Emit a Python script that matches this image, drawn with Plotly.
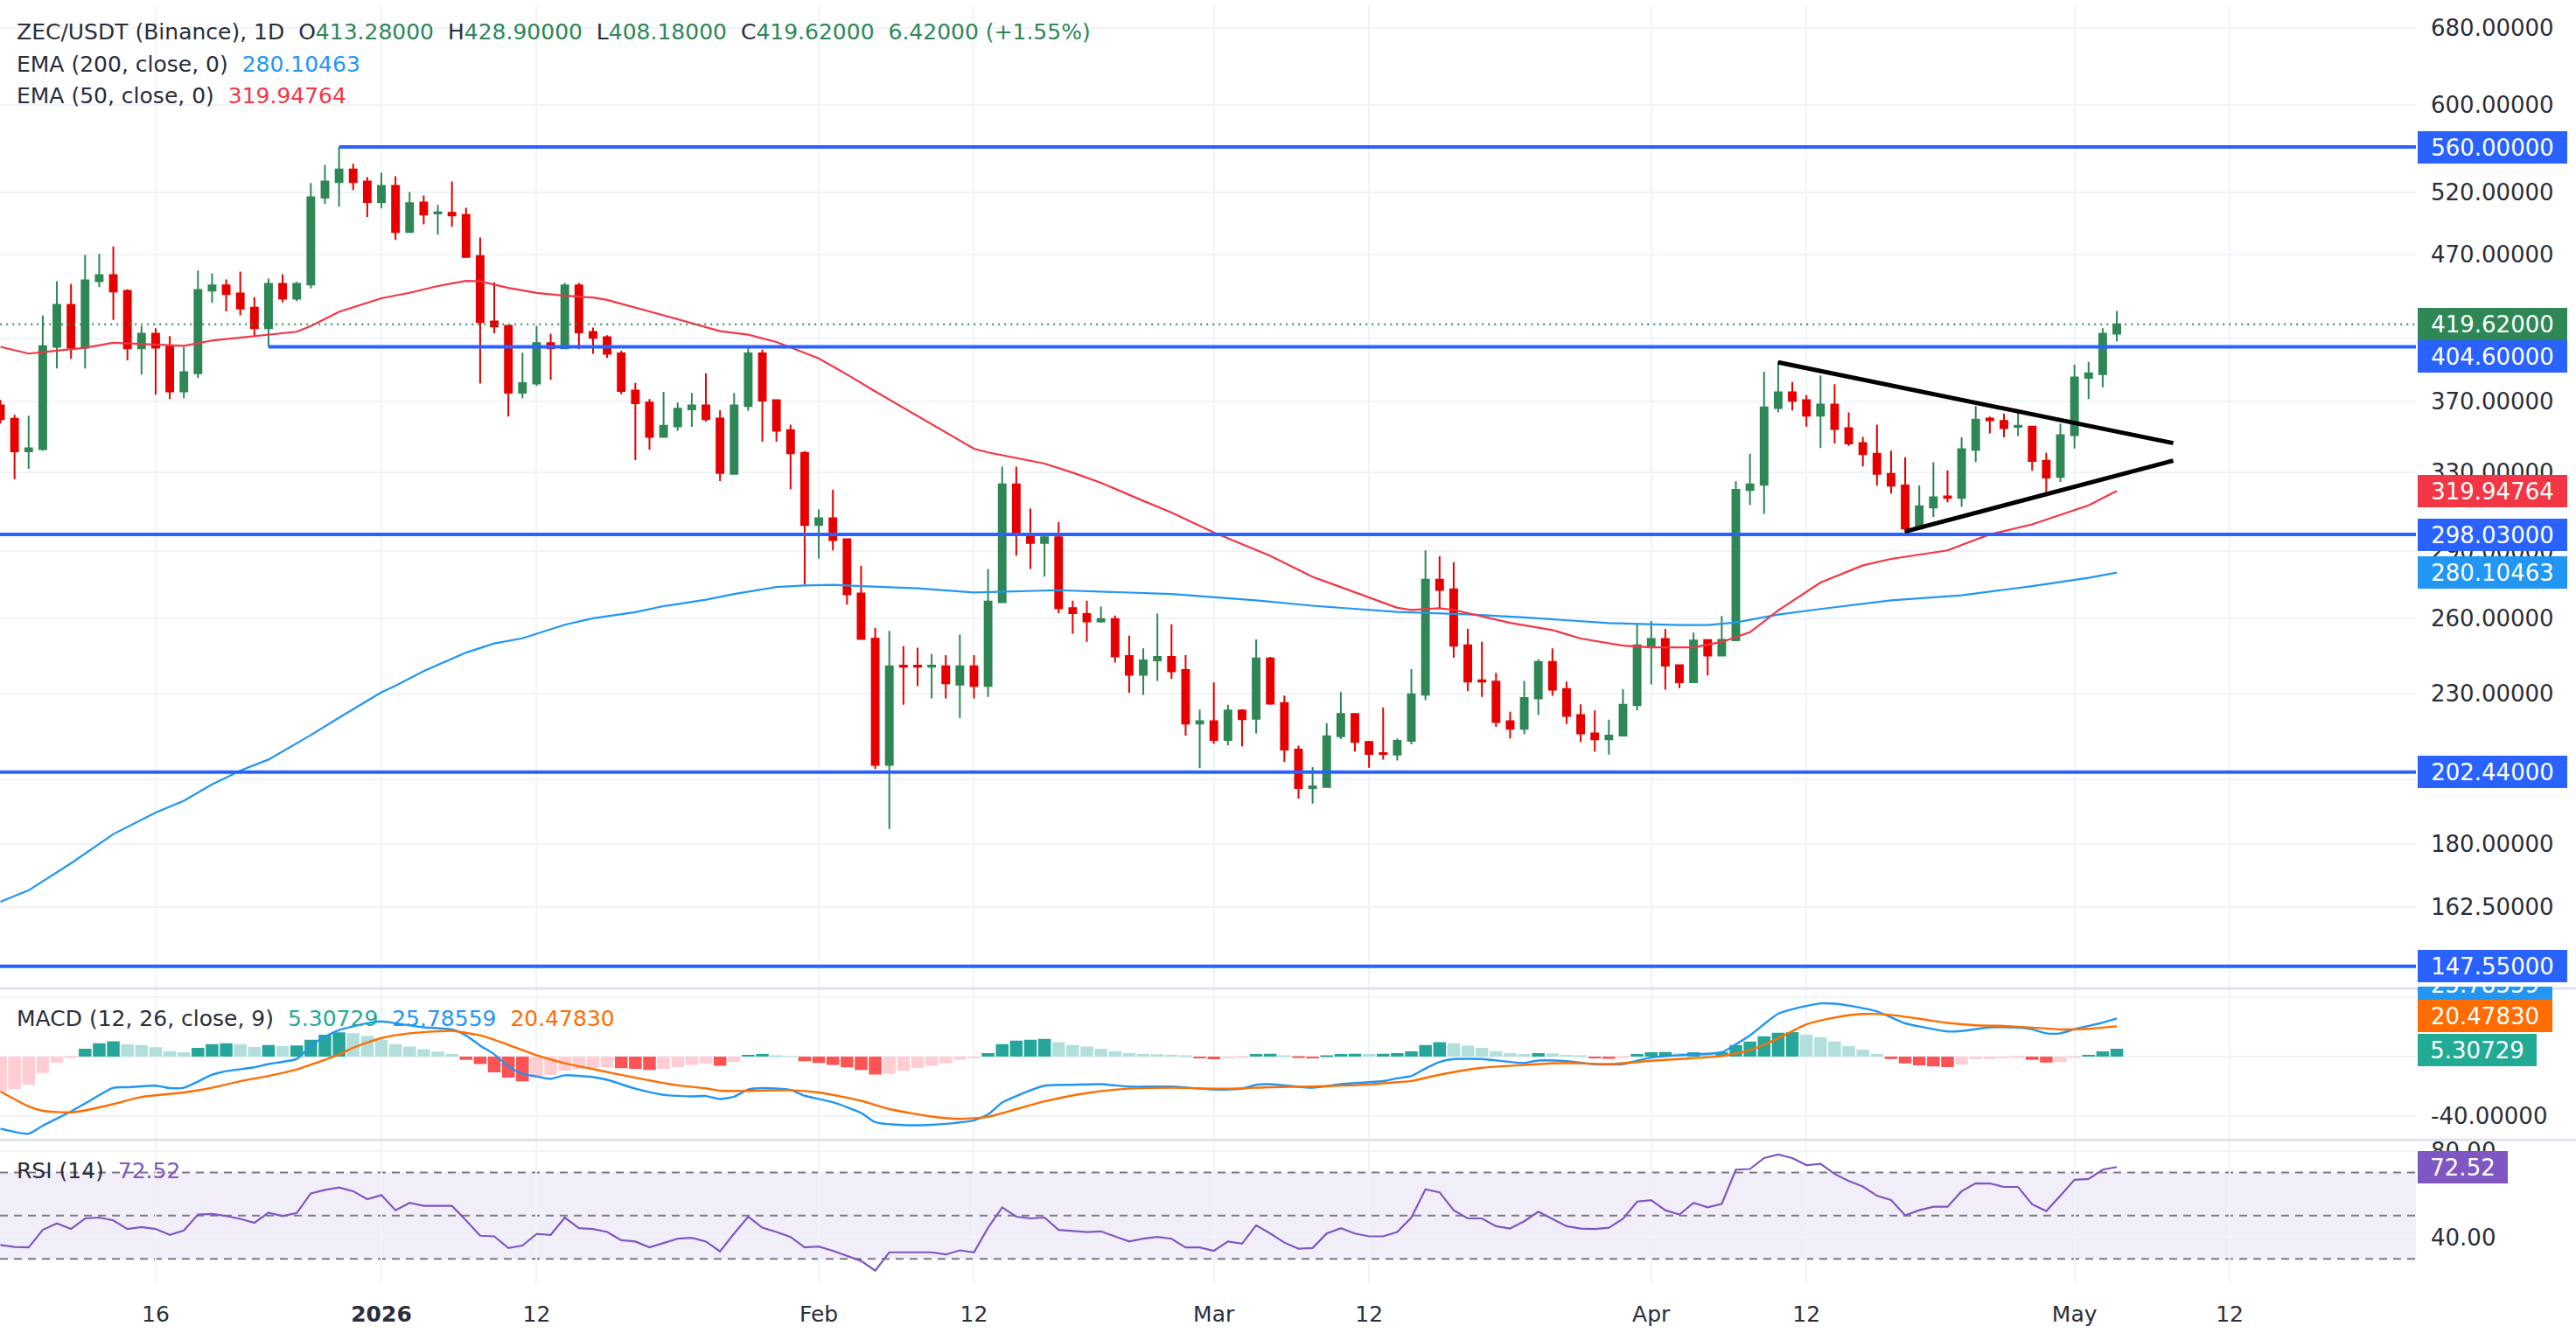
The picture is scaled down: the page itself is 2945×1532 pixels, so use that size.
import math
import pandas as pd
import plotly.graph_objects as go
from plotly.subplots import make_subplots

# ---------------- data ----------------
START = "2025-12-05"

opens = [367.7, 359.8, 341.2, 342.4, 404.5, 433.1, 403.9, 450.1, 454.6, 443.1,
         403.5, 413.3, 404.5, 376.2, 387.5, 443.3, 447.1, 441.2, 431.2, 417.0,
         448.2, 437.5, 447.7, 515.6, 528.9, 540.0, 529.4, 512.0, 525.7, 487.7,
         511.7, 502.7, 503.1, 501.4, 469.0, 421.6, 418.6, 375.4, 381.1, 407.0,
         403.5, 447.1, 414.4, 410.9, 400.2, 376.7, 369.4, 349.4, 355.4, 365.4,
         367.7, 360.0, 329.0, 367.3, 400.2, 370.9, 353.2, 340.4, 302.7, 306.0,
         295.7, 270.7, 251.5, 204.8, 240.7, 240.7, 240.3, 240.5, 233.4, 240.5,
         232.9, 266.9, 323.4, 297.7, 293.9, 296.7, 264.4, 261.8, 258.7, 259.7,
         244.5, 237.2, 242.8, 244.2, 239.0, 219.1, 219.9, 213.3, 223.8, 220.8,
         243.6, 226.5, 210.0, 197.2, 197.6, 214.6, 222.5, 212.6, 208.8, 208.3,
         213.0, 229.6, 276.9, 272.6, 248.8, 235.1, 234.6, 219.9, 217.2, 228.2,
         242.2, 231.7, 222.1, 215.6, 213.5, 214.8, 225.7, 248.2, 251.4, 240.9,
         234.3, 251.0, 244.7, 250.9, 320.4, 323.1, 366.1, 375.6, 370.9, 361.6,
         368.2, 354.3, 345.9, 339.9, 328.9, 322.8, 300.9, 311.4, 317.1, 316.3,
         342.1, 360.0, 358.6, 355.1, 355.3, 336.0, 327.3, 350.3, 384.6, 386.9,
         413.28]
highs = [371.0, 362.1, 361.6, 425.6, 450.1, 448.1, 469.7, 470.6, 476.3, 444.2,
         418.6, 417.0, 411.7, 404.5, 458.0, 456.0, 451.4, 457.3, 438.5, 452.0,
         455.3, 449.7, 528.2, 543.9, 560.0, 545.0, 533.2, 537.0, 534.0, 520.5,
         517.5, 509.7, 529.4, 507.3, 483.3, 449.4, 418.6, 400.6, 418.6, 413.3,
         448.8, 448.8, 417.4, 412.3, 401.9, 381.5, 371.6, 375.9, 369.4, 375.3,
         387.5, 364.9, 375.3, 405.1, 402.6, 371.3, 356.4, 341.4, 310.4, 320.5,
         295.7, 283.3, 256.0, 254.8, 248.5, 247.9, 245.3, 244.9, 253.2, 244.9,
         281.8, 332.8, 332.8, 310.8, 297.4, 304.1, 267.6, 267.6, 265.0, 261.2,
         252.8, 247.6, 262.0, 257.5, 244.9, 224.1, 234.2, 225.9, 224.3, 251.2,
         244.2, 229.3, 211.3, 204.1, 219.2, 230.6, 222.5, 213.0, 224.8, 213.8,
         239.4, 290.4, 287.6, 284.9, 255.6, 250.3, 237.9, 223.3, 234.8, 243.2,
         247.6, 234.6, 226.0, 223.8, 220.5, 231.7, 257.9, 258.9, 255.6, 240.9,
         254.0, 251.0, 261.0, 325.0, 339.9, 388.5, 395.0, 382.0, 373.9, 386.1,
         380.6, 363.5, 349.4, 356.4, 341.6, 338.0, 322.8, 335.2, 330.8, 349.1,
         367.3, 361.1, 362.8, 364.2, 355.3, 340.4, 356.9, 392.9, 394.7, 416.9,
         428.90]
lows = [357.0, 326.2, 331.7, 341.6, 390.5, 396.7, 390.5, 445.8, 422.6, 395.7,
        386.6, 374.2, 371.6, 372.1, 384.4, 434.6, 428.6, 425.8, 411.1, 404.7,
        434.8, 435.8, 444.8, 510.5, 508.3, 522.2, 499.7, 506.8, 481.4, 487.7,
        493.8, 485.6, 491.8, 467.4, 381.1, 413.5, 361.1, 372.1, 379.6, 383.3,
        403.5, 403.0, 400.0, 397.2, 374.4, 336.4, 342.1, 349.4, 352.8, 355.1,
        358.2, 325.1, 328.5, 364.5, 346.6, 346.6, 320.9, 274.7, 286.6, 290.4,
        265.9, 251.4, 203.4, 184.5, 225.9, 232.9, 228.2, 228.2, 221.0, 228.2,
        228.8, 266.9, 287.9, 281.8, 278.3, 262.2, 253.6, 250.3, 258.1, 241.9,
        230.3, 229.5, 234.8, 235.6, 214.8, 203.7, 212.0, 211.5, 211.1, 215.6,
        225.9, 205.8, 193.9, 192.3, 197.6, 213.6, 209.3, 203.9, 206.6, 206.3,
        211.8, 227.6, 264.1, 243.8, 231.0, 228.8, 217.9, 213.8, 215.3, 222.1,
        229.2, 218.9, 212.6, 209.3, 208.3, 214.8, 223.8, 233.5, 231.5, 232.1,
        234.0, 236.9, 244.7, 250.9, 312.6, 308.2, 363.5, 364.7, 355.3, 343.1,
        345.6, 344.3, 333.0, 322.7, 318.6, 299.0, 300.9, 306.7, 314.1, 311.8,
        335.3, 351.4, 349.2, 349.7, 330.6, 317.8, 324.6, 342.8, 371.5, 378.8,
        408.18]
closes = [359.5, 341.2, 342.9, 404.9, 433.1, 403.9, 450.8, 454.6, 442.7, 403.5,
          413.3, 403.9, 376.2, 388.1, 443.7, 447.1, 440.8, 430.6, 417.0, 448.2,
          437.5, 448.2, 516.1, 529.4, 540.0, 528.9, 512.0, 525.7, 487.7, 511.2,
          501.7, 503.6, 501.0, 468.3, 421.2, 418.2, 375.4, 381.3, 407.0, 403.5,
          447.1, 414.1, 410.5, 400.0, 376.4, 369.0, 349.4, 355.8, 365.7, 367.7,
          359.5, 329.4, 367.7, 400.2, 370.6, 352.9, 340.1, 302.7, 306.0, 295.3,
          270.4, 251.4, 204.8, 240.5, 240.3, 240.3, 240.7, 233.9, 240.5, 232.9,
          267.2, 323.4, 297.7, 293.9, 296.7, 264.3, 262.2, 258.7, 259.7, 244.4,
          237.2, 242.8, 244.2, 238.5, 219.1, 219.9, 213.3, 223.8, 220.6, 243.6,
          226.3, 210.0, 197.2, 197.8, 214.6, 222.5, 212.6, 208.5, 208.5, 213.0,
          229.8, 276.9, 272.3, 248.7, 234.6, 234.6, 219.6, 217.2, 228.4, 242.2,
          231.5, 221.8, 215.6, 213.5, 214.8, 225.9, 248.8, 251.4, 240.7, 234.3,
          250.8, 244.7, 251.1, 320.5, 323.4, 366.5, 375.6, 370.5, 361.6, 368.2,
          353.9, 345.6, 339.6, 328.9, 322.7, 300.9, 312.1, 316.6, 316.3, 342.4,
          359.3, 358.9, 354.4, 355.8, 335.9, 327.0, 350.3, 384.8, 387.5, 413.2,
          419.62]

ema200_day = [0, 2, 5, 8, 11, 13, 15, 17, 19, 22, 24, 27, 28, 30, 33, 35, 37, 40, 42, 45,
              47, 50, 52, 53, 55, 57, 59, 61, 65, 69, 75, 83, 89, 93, 99, 104, 108, 114, 119, 121,
              123, 126, 129, 134, 139, 144, 148, 150]
ema200_val = [163.9, 167.0, 174.5, 183.0, 189.5, 193.2, 198.4, 202.9, 206.6, 215.0,
              221.2, 230.5, 233.0, 238.6, 245.9, 249.6, 251.7, 257.3, 260.0, 262.6,
              265.2, 268.0, 270.5, 271.6, 273.6, 274.3, 274.6, 274.0, 273.0, 271.2,
              272.2, 270.5, 267.7, 265.4, 262.7, 261.7, 260.4, 258.0, 257.2, 257.2,
              258.3, 261.6, 264.0, 267.7, 269.9, 274.0, 277.7, 280.10463]

ema50_day = [0, 2, 4, 6, 8, 10, 13, 15, 17, 19, 21, 22, 24, 27, 29, 31, 33, 34, 36, 38,
             40, 42, 43, 47, 49, 51, 53, 55, 58, 60, 62, 68, 69, 70, 74, 76, 78, 81, 83, 86,
             88, 90, 93, 96, 99, 100, 102, 103, 107, 110, 112, 115, 117, 120, 122, 124, 126, 129, 132, 134,
             138, 141, 144, 148, 150]
ema50_val = [404.5, 400.1, 402.0, 403.9, 407.2, 406.4, 405.2, 408.7, 410.7, 412.6,
             414.6, 418.5, 428.3, 437.8, 441.7, 446.6, 450.3, 450.0, 445.3, 441.6,
             439.6, 438.3, 436.6, 425.8, 420.5, 415.0, 412.6, 407.7, 397.0, 386.7,
             376.2, 347.5, 342.7, 340.6, 334.5, 329.6, 324.2, 314.8, 308.9, 299.0,
             293.2, 287.8, 278.2, 271.3, 264.5, 263.6, 264.3, 263.6, 258.1, 255.1,
             251.6, 248.7, 248.0, 248.0, 250.2, 254.2, 263.4, 275.6, 283.4, 286.4,
             290.4, 298.1, 303.0, 312.5, 319.94764]

macd_hist = [-24.0, -22.0, -19.0, -11.0, -4.0, -0.6, 5.4, 9.0, 10.4, 8.4,
             7.8, 6.4, 3.8, 3.0, 6.0, 8.4, 9.0, 8.4, 6.6, 7.8,
             7.2, 7.6, 11.4, 14.8, 16.4, 15.8, 14.0, 11.4, 8.4, 6.8,
             5.0, 3.4, 1.8, -2.2, -5.0, -10.6, -14.2, -16.6, -14.6, -12.2,
             -9.6, -8.2, -7.6, -7.0, -7.8, -8.2, -9.0, -8.2, -7.0, -5.6,
             -4.6, -6.2, -3.6, 1.2, 1.8, 1.0, 0.4, -3.0, -4.2, -5.6,
             -7.2, -9.0, -12.0, -11.6, -9.6, -7.6, -6.2, -4.6, -2.2, -1.2,
             2.4, 8.4, 10.8, 11.4, 12.0, 9.8, 7.8, 6.8, 5.4, 3.8,
             2.4, 1.8, 1.6, 1.2, 0.6, -1.2, -1.8, -1.2, -0.6, 1.8,
             2.0, 1.0, -0.6, -1.2, 0.6, 1.8, 2.0, 1.8, 2.0, 2.4,
             3.6, 7.8, 9.8, 9.0, 7.4, 6.0, 3.8, 2.4, 1.8, 2.4,
             2.2, 1.2, 0.6, -1.2, -1.4, -0.6, 1.8, 3.0, 3.2, 2.2,
             3.0, 2.6, 3.0, 7.8, 10.2, 13.8, 16.2, 16.6, 15.0, 13.2,
             10.2, 7.2, 4.8, 1.8, -1.6, -4.6, -5.8, -6.6, -7.0, -5.2,
             -1.8, -1.6, -1.2, -1.0, -2.2, -4.0, -3.6, -0.6, 1.2, 3.6,
             5.30729]

macd_day = [0, 2, 3, 5, 6, 8, 9, 11, 12, 13, 15, 16, 18, 19, 20, 21, 22, 23, 24, 25,
            26, 27, 28, 30, 32, 33, 34, 35, 36, 37, 38, 39, 40, 42, 43, 45, 47, 49, 50, 51,
            52, 53, 54, 56, 57, 59, 61, 62, 64, 66, 67, 69, 70, 71, 72, 74, 76, 78, 80, 83,
            86, 88, 89, 90, 93, 95, 98, 99, 100, 101, 102, 103, 105, 107, 108, 109, 111, 113, 115, 117,
            119, 122, 123, 124, 125, 126, 127, 129, 130, 131, 133, 135, 136, 138, 139, 141, 143, 144, 145, 146,
            147, 149, 150]
macd_val = [-48.6, -52.0, -46.6, -37.0, -31.6, -21.0, -20.6, -19.6, -21.2, -21.0,
            -12.2, -9.8, -7.2, -5.0, -3.5, -1.5, 7.4, 13.5, 18.0, 20.5,
            22.6, 23.8, 22.6, 19.8, 18.4, 14.3, 7.5, 1.6, -6.5, -11.5,
            -13.3, -15.0, -12.6, -13.8, -15.6, -21.6, -25.8, -26.8, -26.6, -28.6,
            -27.0, -22.2, -21.2, -22.5, -26.4, -30.8, -38.0, -44.2, -46.2, -46.0,
            -45.4, -43.0, -39.0, -31.0, -26.6, -19.6, -19.0, -18.6, -20.2, -20.2,
            -22.2, -21.6, -19.0, -18.6, -21.0, -18.6, -16.5, -14.6, -13.0, -8.0,
            -3.6, -1.6, -1.6, -3.6, -4.2, -2.6, -3.0, -5.2, -5.0, -0.6,
            1.0, 3.0, 8.4, 14.4, 22.0, 29.0, 32.0, 36.0, 35.8, 34.5,
            30.5, 22.5, 20.4, 17.0, 17.3, 19.8, 19.6, 18.4, 15.8, 15.8,
            18.5, 23.0, 25.78559]

signal_day = [0, 2, 3, 5, 6, 8, 10, 13, 15, 17, 19, 21, 22, 24, 25, 27, 29, 31, 32, 34,
              36, 38, 40, 42, 45, 48, 50, 51, 53, 56, 58, 61, 63, 66, 68, 70, 72, 74, 77, 80,
              83, 87, 90, 93, 97, 99, 100, 102, 105, 108, 111, 114, 117, 119, 122, 124, 126, 128, 130, 132,
              134, 136, 138, 140, 142, 144, 146, 148, 150]
signal_val = [-23.6, -33.6, -36.6, -37.6, -36.3, -32.0, -27.2, -24.2, -21.0, -16.6,
              -13.0, -8.6, -5.4, 1.5, 6.0, 12.6, 15.8, 17.1, 17.4, 14.4,
              8.0, 1.0, -4.5, -8.4, -14.2, -19.4, -21.4, -23.0, -23.1, -22.6,
              -24.2, -29.8, -35.4, -40.4, -42.0, -40.6, -35.4, -30.2, -24.6, -21.6,
              -21.0, -21.6, -20.6, -20.2, -18.8, -17.2, -16.4, -12.2, -7.5, -5.6,
              -4.2, -5.0, -2.8, -1.6, 0.4, 4.4, 12.4, 21.8, 26.4, 28.8,
              28.2, 25.6, 22.8, 21.2, 20.8, 19.6, 18.4, 18.8, 20.4783]

rsi = [36.4, 35.5, 35.3, 43.4, 46.4, 43.8, 48.7, 49.1, 47.8, 43.8,
       44.7, 43.8, 41.1, 43.1, 50.5, 50.8, 49.8, 48.5, 46.7, 51.4,
       49.8, 51.2, 60.3, 61.9, 63.0, 61.3, 57.6, 59.5, 52.5, 55.9,
       54.5, 54.5, 54.5, 47.8, 40.7, 40.4, 35.0, 36.1, 41.5, 41.1,
       49.1, 44.2, 43.8, 42.4, 38.6, 38.0, 35.3, 37.3, 39.3, 39.7,
       38.0, 33.4, 41.7, 49.5, 44.4, 42.4, 40.1, 35.3, 35.7, 33.7,
       31.2, 29.0, 24.5, 33.0, 33.0, 33.0, 33.0, 32.0, 33.9, 33.0,
       44.4, 53.8, 49.5, 48.7, 49.1, 43.4, 42.8, 42.4, 42.7, 40.4,
       38.0, 39.3, 40.1, 39.3, 35.3, 35.3, 33.7, 38.0, 37.0, 45.5,
       41.7, 37.5, 34.7, 35.0, 41.7, 44.2, 41.7, 40.4, 40.4, 42.4,
       49.1, 62.2, 60.8, 52.5, 48.7, 48.7, 45.1, 44.0, 47.4, 51.8,
       48.5, 45.1, 44.0, 43.8, 44.4, 48.5, 56.5, 57.2, 52.5, 50.5,
       55.9, 53.8, 55.5, 71.3, 71.6, 76.7, 78.3, 76.7, 73.4, 74.0,
       69.3, 66.0, 63.5, 59.2, 57.2, 50.1, 52.5, 54.1, 54.1, 61.3,
       65.0, 64.9, 63.3, 63.3, 55.2, 52.1, 59.2, 66.6, 67.0, 71.3,
       72.52]

# horizontal levels: price, start date (None = full width)
level_prices = [560.0, 404.6, 298.03, 202.44, 147.55]
level_starts = ["2025-12-29", "2025-12-24", None, None, None]
last_close = 419.62

# triangle trend lines (date, price)
tri_upper_dates = ["2026-04-10", "2026-05-08"]
tri_upper_prices = [394.4, 345.8]
tri_lower_dates = ["2026-04-19", "2026-05-08"]
tri_lower_prices = [299.5, 336.1]

price_ticks = [680, 600, 520, 470, 410, 370, 330, 290, 260, 230, 200, 180, 162.5]
x_tick_dates = ["2025-12-05", "2025-12-16", "2026-01-01", "2026-01-12", "2026-02-01", "2026-02-12",
                "2026-03-01", "2026-03-12", "2026-04-01", "2026-04-12", "2026-05-01", "2026-05-12"]
x_tick_text = ["5", "16", "<b>2026</b>", "12", "Feb", "12", "Mar", "12", "Apr", "12", "May", "12"]

# ---------------- styling ----------------
W, H = 2945, 1532
GREEN = "#2e8755"
RED = "#e60000"
LVL = "#2962ff"
EMA200C = "#2196f3"
EMA50C = "#f23645"
MACDC = "#2196f3"
SIGC = "#ff6d00"
RSIC = "#7e57c2"
GRID = "#f0f3fa"
TXT = "#2a2e39"
FONT = "DejaVu Sans"

base = pd.Timestamp(START)
dates = pd.date_range(START, periods=len(opens), freq="D")


def day(i):
    return base + pd.Timedelta(days=i)


fig = make_subplots(rows=3, cols=1, shared_xaxes=True, vertical_spacing=0.0)

fig.add_trace(go.Candlestick(
    x=dates, open=opens, high=highs, low=lows, close=closes,
    increasing=dict(line=dict(color=GREEN, width=2), fillcolor=GREEN),
    decreasing=dict(line=dict(color=RED, width=2), fillcolor=RED),
    whiskerwidth=0, hoverinfo="skip", showlegend=False), row=1, col=1)

fig.add_trace(go.Scatter(x=[day(d) for d in ema200_day], y=ema200_val, mode="lines",
                         line=dict(color=EMA200C, width=2.2), hoverinfo="skip", showlegend=False), row=1, col=1)
fig.add_trace(go.Scatter(x=[day(d) for d in ema50_day], y=ema50_val, mode="lines",
                         line=dict(color=EMA50C, width=2.2), hoverinfo="skip", showlegend=False), row=1, col=1)

# last price dotted line
fig.add_trace(go.Scatter(x=[day(-10), day(200)], y=[last_close, last_close], mode="lines",
                         line=dict(color=GREEN, width=2, dash="2px,5px"), hoverinfo="skip",
                         showlegend=False), row=1, col=1)

for p, s in zip(level_prices, level_starts):
    x0 = pd.Timestamp(s) if s else day(-10)
    fig.add_trace(go.Scatter(x=[x0, day(200)], y=[p, p], mode="lines",
                             line=dict(color=LVL, width=4), hoverinfo="skip", showlegend=False), row=1, col=1)

fig.add_trace(go.Scatter(x=tri_upper_dates, y=tri_upper_prices, mode="lines",
                         line=dict(color="#000000", width=5), hoverinfo="skip", showlegend=False), row=1, col=1)
fig.add_trace(go.Scatter(x=tri_lower_dates, y=tri_lower_prices, mode="lines",
                         line=dict(color="#000000", width=5), hoverinfo="skip", showlegend=False), row=1, col=1)

# MACD
hist_colors = []
for k, v in enumerate(macd_hist):
    prev = macd_hist[k - 1] if k else v
    if v >= 0:
        hist_colors.append("#26a69a" if v > prev else "#b2dfdb")
    else:
        hist_colors.append("#ff5252" if v < prev else "#ffcdd2")
fig.add_trace(go.Bar(x=dates, y=macd_hist, marker=dict(color=hist_colors, line=dict(width=0)),
                     hoverinfo="skip", showlegend=False), row=2, col=1)
fig.add_trace(go.Scatter(x=[day(d) for d in macd_day], y=macd_val, mode="lines",
                         line=dict(color=MACDC, width=2.4, shape="spline", smoothing=0.6),
                         hoverinfo="skip", showlegend=False), row=2, col=1)
fig.add_trace(go.Scatter(x=[day(d) for d in signal_day], y=signal_val, mode="lines",
                         line=dict(color=SIGC, width=2.4, shape="spline", smoothing=0.6),
                         hoverinfo="skip", showlegend=False), row=2, col=1)

# RSI
fig.add_trace(go.Scatter(x=dates, y=rsi, mode="lines", line=dict(color=RSIC, width=2.2),
                         hoverinfo="skip", showlegend=False), row=3, col=1)

# ---------------- layout ----------------
PLOT_H = 1470.0


def py(px):
    return (PLOT_H - px) / PLOT_H


x_range = [base - pd.Timedelta(hours=0.75), base + pd.Timedelta(days=171.2)]

common_x = dict(range=x_range, tickvals=x_tick_dates, ticktext=x_tick_text, showgrid=True,
                gridcolor=GRID, gridwidth=2, zeroline=False, showline=False, ticks="",
                type="date")
fig.update_layout(
    xaxis=dict(**common_x, showticklabels=False, rangeslider=dict(visible=False)),
    xaxis2=dict(**common_x, showticklabels=False),
    xaxis3=dict(**common_x, showticklabels=True, tickfont=dict(family=FONT, size=25, color=TXT),
                ticklabelstandoff=17),
)

ylog_lo = math.log10(142.47)
ylog_hi = math.log10(705.4)
fig.update_layout(
    yaxis=dict(type="log", range=[ylog_lo, ylog_hi], domain=[py(1128), 1.0], side="right",
               tickvals=price_ticks, ticktext=[f"{v:.5f}" for v in price_ticks],
               showgrid=True, gridcolor=GRID, gridwidth=2, zeroline=False, ticks="",
               tickfont=dict(family=FONT, size=26, color=TXT), ticklabelstandoff=16),
    yaxis2=dict(range=[-55.3, 45.3], domain=[py(1301), py(1130)], side="right",
                tickvals=[40, 0, -40], ticktext=["40.00000", "0.00000", "-40.00000"],
                showgrid=True, gridcolor=GRID, gridwidth=2, zeroline=False, ticks="",
                tickfont=dict(family=FONT, size=26, color=TXT), ticklabelstandoff=16),
    yaxis3=dict(range=[18.3, 84.5], domain=[py(1468), py(1304)], side="right",
                tickvals=[80, 40], ticktext=["80.00", "40.00"],
                showgrid=True, gridcolor=GRID, gridwidth=2, zeroline=False, ticks="",
                tickfont=dict(family=FONT, size=26, color=TXT), ticklabelstandoff=16),
)

shapes = []
# RSI band and dashed levels
shapes.append(dict(type="rect", xref="x3 domain", x0=0, x1=1, yref="y3", y0=30, y1=70,
                   fillcolor="rgba(126,87,194,0.1)", line=dict(width=0), layer="below"))
for lv in [70, 50, 30]:
    shapes.append(dict(type="line", xref="x3 domain", x0=0, x1=1, yref="y3", y0=lv, y1=lv,
                       line=dict(color="#787b86", width=2, dash="9px,7px"), layer="below"))
# pane separators
for sep in [1128.5, 1302.5]:
    shapes.append(dict(type="line", xref="paper", x0=0, x1=1.07, yref="paper", y0=py(sep), y1=py(sep),
                       line=dict(color="#e0e3eb", width=3)))
fig.update_layout(shapes=shapes)

annotations = []
TAG_W = {9: 171, 8: 154, 7: 136, 5: 103}


def tag(text, yref, yval, color, yshift=0.0, fcolor="#ffffff"):
    w = TAG_W.get(len(text), 17 * len(text) + 18)
    annotations.append(dict(xref="paper", x=1.0, xanchor="left", xshift=2, yref=yref, y=yval,
                            yanchor="middle", yshift=yshift, text=text, showarrow=False,
                            bgcolor=color, borderpad=0, borderwidth=0, width=w, height=37,
                            align="center", valign="middle",
                            font=dict(family=FONT, size=26, color=fcolor)))


# MACD / RSI tags first; the upper MACD tag is pushed out of its pane and mostly hidden
tag("25.78559", "y2", 25.78559, MACDC, yshift=39)
# white cover = the part of that tag outside the MACD pane
annotations.append(dict(xref="paper", x=1.0, xanchor="left", xshift=1, yref="paper", y=py(1127),
                        yanchor="bottom", text=" ", showarrow=False, bgcolor="#ffffff",
                        borderpad=0, borderwidth=0, width=178, height=30,
                        font=dict(family=FONT, size=12, color="#ffffff")))
tag("20.47830", "y2", 20.4783, SIGC, yshift=12)
tag("5.30729", "y2", 5.30729, "#22ab94", yshift=-1)
tag("72.52", "y3", 72.52, RSIC)

lg = math.log10
tag("560.00000", "y", lg(560.0), LVL)
tag("419.62000", "y", lg(419.62), GREEN)
tag("404.60000", "y", lg(404.6), LVL, yshift=-11.5)
tag("319.94764", "y", lg(319.94764), EMA50C)
tag("298.03000", "y", lg(298.03), LVL)
tag("280.10463", "y", lg(280.10463), EMA200C)
tag("202.44000", "y", lg(202.44), LVL)
tag("147.55000", "y", lg(147.55), LVL)


def span(t, c):
    return f'<span style="color:{c}">{t}</span>'


sp = "&nbsp;&nbsp;"
legend1 = (span("ZEC/USDT (Binance), 1D", TXT) + sp + span("O", TXT) + span("413.28000", GREEN) + sp +
           span("H", TXT) + span("428.90000", GREEN) + sp + span("L", TXT) + span("408.18000", GREEN) + sp +
           span("C", TXT) + span("419.62000", GREEN) + sp + span("6.42000 (+1.55%)", GREEN))
legend2 = span("EMA (200, close, 0)", TXT) + sp + span("280.10463", EMA200C)
legend3 = span("EMA (50, close, 0)", TXT) + sp + span("319.94764", EMA50C)
legend4 = (span("MACD (12, 26, close, 9)", TXT) + sp + span("5.30729", "#22ab94") + sp +
           span("25.78559", MACDC) + sp + span("20.47830", SIGC))
legend5 = span("RSI (14)", TXT) + sp + span("72.52", RSIC)

for txt, ypx in [(legend1, 31), (legend2, 68), (legend3, 104), (legend4, 1163), (legend5, 1338)]:
    annotations.append(dict(xref="paper", x=0, xanchor="left", xshift=17, yref="paper", y=py(ypx),
                            yanchor="middle", text=txt, showarrow=False, align="left",
                            font=dict(family=FONT, size=25, color=TXT)))

fig.update_layout(annotations=annotations)

fig.update_layout(
    width=W, height=H,
    margin=dict(l=0, r=W - 2762, t=0, b=H - int(PLOT_H)),
    paper_bgcolor="#ffffff", plot_bgcolor="#ffffff",
    showlegend=False, bargap=0.1, boxgap=0.3, hovermode=False,
    font=dict(family=FONT, color=TXT),
)

fig.write_html("out.html", config={"displayModeBar": False})
